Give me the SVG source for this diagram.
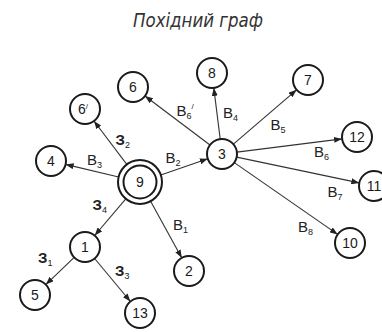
<svg xmlns="http://www.w3.org/2000/svg" width="382" height="332" viewBox="0 0 382 332">
<defs>
<marker id="arr" markerWidth="8" markerHeight="6" refX="8" refY="3" orient="auto" markerUnits="userSpaceOnUse">
<path d="M0,0 L8,3 L0,6 z" fill="#222"/>
</marker>
<style>
.n circle{fill:#fff;stroke:#1a1a1a;stroke-width:2}
.n text{font-family:"Liberation Sans",Arial,sans-serif;font-size:14px;fill:#1a1a1a;text-anchor:middle}
.e line{stroke:#333;stroke-width:1.1;marker-end:url(#arr)}
.l{font-family:"Liberation Sans",Arial,sans-serif;font-size:15px;fill:#222}
.s{font-size:9px}
.p{font-size:8px}
.t{font-family:"DejaVu Sans","Liberation Sans",sans-serif;font-style:italic;font-weight:200;font-size:20px;fill:#333}
</style>
</defs>
<rect width="382" height="332" fill="#fff"/>
<text class="t" x="133" y="27" textLength="130" lengthAdjust="spacingAndGlyphs">Похідний граф</text>
<g id="edges" class="e">
<line x1="160.8" y1="174.9" x2="207.8" y2="158.8"/>
<line x1="118.6" y1="177.0" x2="65.6" y2="164.4"/>
<line x1="126.8" y1="164.4" x2="94.0" y2="121.0"/>
<line x1="125.8" y1="198.8" x2="94.7" y2="235.5"/>
<line x1="150.6" y1="201.3" x2="181.8" y2="257.9"/>
<line x1="74.2" y1="257.4" x2="45.8" y2="284.6"/>
<line x1="94.6" y1="258.5" x2="130.4" y2="301.5"/>
<line x1="210" y1="145" x2="145" y2="96"/>
<line x1="220.2" y1="139.1" x2="213.8" y2="87.9"/>
<line x1="233.4" y1="144.2" x2="296.6" y2="89.8"/>
<line x1="236.9" y1="152.1" x2="342.1" y2="138.9"/>
<line x1="236.7" y1="157.1" x2="359.3" y2="182.9"/>
<line x1="234.3" y1="162.6" x2="337.7" y2="234.4"/>
</g>
<g id="labels">
<text class="l" x="165.5" y="163">В<tspan class="s" dy="3">2</tspan></text>
<text class="l" x="87" y="165">В<tspan class="s" dy="3">3</tspan></text>
<text class="l" x="115.5" y="145" font-weight="bold">З<tspan class="s" dy="3" font-weight="normal">2</tspan></text>
<text class="l" x="176.5" y="116">В<tspan class="s" dy="3">6</tspan><tspan class="p" dy="-10">/</tspan></text>
<text class="l" x="223" y="118">В<tspan class="s" dy="3">4</tspan></text>
<text class="l" x="270.5" y="130">В<tspan class="s" dy="3">5</tspan></text>
<text class="l" x="314" y="157">В<tspan class="s" dy="3">6</tspan></text>
<text class="l" x="327.5" y="197">В<tspan class="s" dy="3">7</tspan></text>
<text class="l" x="298" y="232">В<tspan class="s" dy="3">8</tspan></text>
<text class="l" x="173" y="230">В<tspan class="s" dy="3">1</tspan></text>
<text class="l" x="92.5" y="210" font-weight="bold">З<tspan class="s" dy="3" font-weight="normal">4</tspan></text>
<text class="l" x="38" y="263" font-weight="bold">З<tspan class="s" dy="3" font-weight="normal">1</tspan></text>
<text class="l" x="115" y="276" font-weight="bold">З<tspan class="s" dy="3" font-weight="normal">3</tspan></text>
</g>
<g id="n9" class="n"><circle cx="140" cy="182" r="22"/><circle cx="140" cy="182" r="16.5"/><text x="140" y="187" fill="#444">9</text></g>
<g id="n3" class="n"><circle cx="222" cy="154" r="15"/><text x="222" y="159">3</text></g>
<g id="n4" class="n"><circle cx="51" cy="161" r="15"/><text x="51" y="166">4</text></g>
<g id="n6p" class="n"><circle cx="85" cy="109" r="15"/><text x="83" y="114">6<tspan font-size="8" dy="-5">/</tspan></text></g>
<g id="n6" class="n"><circle cx="133" cy="87" r="15"/><text x="133" y="92">6</text></g>
<g id="n8" class="n"><circle cx="212" cy="73" r="15"/><text x="212" y="78">8</text></g>
<g id="n7" class="n"><circle cx="308" cy="80" r="15"/><text x="308" y="85">7</text></g>
<g id="n12" class="n"><circle cx="357" cy="137" r="15"/><text x="357" y="142">12</text></g>
<g id="n11" class="n"><circle cx="374" cy="186" r="15"/><text x="374" y="191">11</text></g>
<g id="n10" class="n"><circle cx="350" cy="243" r="15"/><text x="350" y="248">10</text></g>
<g id="n2" class="n"><circle cx="189" cy="271" r="15"/><text x="189" y="276">2</text></g>
<g id="n1" class="n"><circle cx="85" cy="247" r="15"/><text x="85" y="252">1</text></g>
<g id="n5" class="n"><circle cx="35" cy="295" r="15"/><text x="35" y="300">5</text></g>
<g id="n13" class="n"><circle cx="140" cy="313" r="15"/><text x="140" y="318">13</text></g>
</svg>
